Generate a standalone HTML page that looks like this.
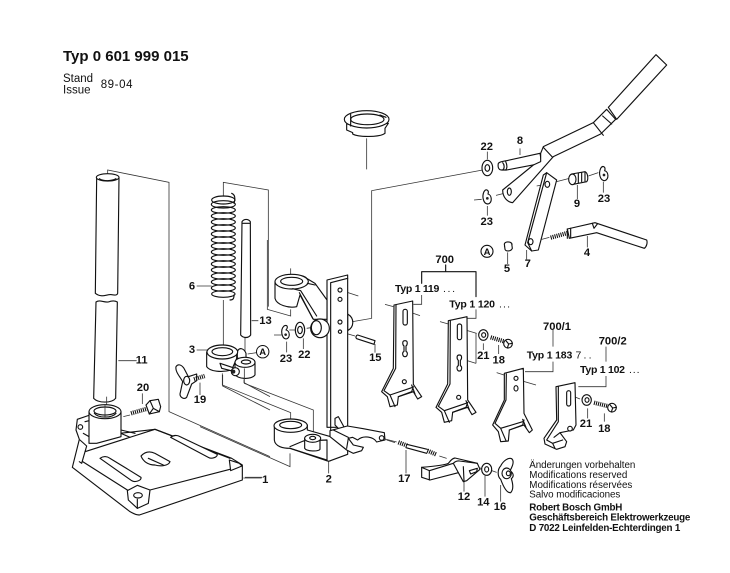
<!DOCTYPE html>
<html><head><meta charset="utf-8"><style>
html,body{margin:0;padding:0;background:#fff}
svg{display:block;filter:blur(.3px)}
.d{fill:#fff;stroke:#111;stroke-width:3.4;stroke-linejoin:round;stroke-linecap:round}
.n{fill:none;stroke:#111;stroke-width:3.4;stroke-linejoin:round;stroke-linecap:round}
.l{fill:none;stroke:#333;stroke-width:2.4}
.th{fill:none;stroke:#111;stroke-width:13;stroke-dasharray:3.2 3}
text{font-family:"Liberation Sans",sans-serif;fill:#111}
.b{font-weight:bold;font-size:11.2px;text-anchor:middle}
.ty{font-weight:bold;font-size:10.5px}
.dt{font-size:10.5px}
.s{font-size:9.8px}
.sb{font-size:9.8px;font-weight:bold}
</style></head><body>
<svg width="730" height="573" viewBox="0 0 730 573" xmlns="http://www.w3.org/2000/svg">
<rect width="730" height="573" fill="#fff"/>

<!-- Zoom group 1 -->
<g transform="translate(40,150) scale(.33333)">
<path class="l" d="M203,80V60L387,97V785L690,920"/>
<path class="l" d="M550,140V97L685,120V470"/>
<path class="l" d="M550,450V590M615,562V625M470,600H502M470,408H515M235,632H290M480,698V735M307,730V762M270,795L250,800M610,984H665M635,512H655M623,612L650,608"/>
<!-- tube -->
<path class="d" d="M170,82L166,430C185,445 200,432 215,434C225,436 232,436 233,430L237,82Z"/>
<ellipse class="d" cx="203" cy="82" rx="34" ry="11"/>
<path class="n" d="M178,86C190,94 215,94 228,86"/>
<path class="d" d="M168,456C180,448 190,458 205,456C215,452 225,452 232,456L227,745C215,760 175,760 161,745Z"/>
<path class="l" d="M200,740V790"/>
<!-- base plate -->
<path class="d" d="M97,952L118,868L108,840L112,808L150,795L240,850L345,838L575,925L607,945L607,990L298,1095C285,1095 280,1090 270,1085Z"/>
<path class="n" d="M128,935L265,1022M135,905L345,838M345,838L570,925M330,1020L570,958L605,945M120,870L140,888L125,940L118,935"/>
<path class="d" d="M262,1022L292,1006L330,1020L325,1060L292,1075L265,1050Z"/>
<ellipse class="d" cx="294" cy="1036" rx="13" ry="8"/>
<path class="n" d="M292,1048V1075"/>
<path class="d" d="M180,925C190,918 200,918 210,925L303,982C305,992 285,998 275,992Z"/>
<path class="d" d="M392,862C400,855 412,855 420,860L532,913C532,922 515,928 505,922Z"/>
<path class="d" d="M303,918C315,905 330,903 345,910L390,935C385,948 360,950 345,945C325,945 310,935 303,918Z"/>
<path class="n" d="M325,925L370,945"/>
<path class="d" d="M568,930L598,940L606,948L572,962Z"/>
<!-- socket -->
<path class="n" d="M243,840L285,850M243,850L270,862"/>
<path class="d" d="M147,785V880L170,880L243,860V785Z"/>
<ellipse class="d" cx="195" cy="785" rx="48" ry="21"/>
<ellipse class="d" cx="195" cy="783" rx="33" ry="12"/>
<path class="n" d="M163,790C175,805 215,805 228,790"/>
<path class="l" d="M195,765V800"/>
<circle class="d" cx="121" cy="831" r="7"/>
<path class="n" d="M135,815L147,812M130,850L147,860"/>
<!-- bolt 20 -->
<path class="th" d="M273,790L322,776"/>
<path class="d" d="M318,765L330,752L355,748L362,770L358,785L328,792Z"/>
<path class="n" d="M330,752L340,775L358,785M340,775L328,792"/>
<!-- wing nut 19 -->
<path class="d" d="M408,650C415,640 425,645 432,655L445,680L470,672L470,692L455,702L440,742C432,750 420,742 420,732L428,695C420,680 405,665 408,650Z"/>
<path class="th" d="M462,688L494,678"/>
<ellipse class="d" cx="440" cy="692" rx="9" ry="13"/>
<!-- spring -->
<g>
<ellipse class="n" cx="550" cy="432" rx="35" ry="10"/>
<ellipse class="n" cx="550" cy="414" rx="36" ry="10"/>
<ellipse class="n" cx="550" cy="396" rx="36" ry="10"/>
<ellipse class="n" cx="550" cy="378" rx="36" ry="10"/>
<ellipse class="n" cx="550" cy="360" rx="36" ry="10"/>
<ellipse class="n" cx="550" cy="342" rx="36" ry="10"/>
<ellipse class="n" cx="550" cy="324" rx="36" ry="10"/>
<ellipse class="n" cx="550" cy="306" rx="36" ry="10"/>
<ellipse class="n" cx="550" cy="288" rx="36" ry="10"/>
<ellipse class="n" cx="550" cy="270" rx="36" ry="10"/>
<ellipse class="n" cx="550" cy="252" rx="36" ry="10"/>
<ellipse class="n" cx="550" cy="234" rx="36" ry="10"/>
<ellipse class="n" cx="550" cy="216" rx="36" ry="10"/>
<ellipse class="n" cx="550" cy="198" rx="36" ry="10"/>
<ellipse class="n" cx="550" cy="180" rx="36" ry="10"/>
<ellipse class="n" cx="550" cy="163" rx="36" ry="11"/>
<ellipse class="n" cx="550" cy="150" rx="35" ry="12"/>
</g>
<path class="n" d="M575,130C588,135 585,150 582,160M570,450C580,450 582,445 582,435"/>
<!-- rod 13 -->
<path class="d" d="M606,215C612,206 625,206 631,215L632,555C625,565 610,565 602,555Z"/>
<path class="n" d="M608,220H630"/>
<!-- clamp 3 -->
<path class="d" d="M592,605C598,590 612,595 618,610V625H592Z"/>
<path class="d" d="M500,606V650C510,665 545,668 575,660L590,625V606Z"/>
<ellipse class="d" cx="547" cy="606" rx="46" ry="21"/>
<ellipse class="d" cx="547" cy="605" rx="31" ry="12"/>
<path class="d" d="M585,640V672C590,688 635,690 645,675V636Z"/>
<ellipse class="d" cx="615" cy="637" rx="30" ry="15"/>
<ellipse class="d" cx="618" cy="636" rx="14" ry="6"/>
<path class="d" d="M540,640L585,655V665L545,655Z"/>
<circle class="d" cx="586" cy="665" r="12"/>
<circle cx="580" cy="665" r="6" fill="#222"/>
<path class="l" d="M548,675V708L690,780M612,688V698L690,740"/>
</g>

<!-- Zoom group 2 -->
<g transform="translate(200,240) scale(.33333)">
<path class="l" d="M202,0V208L272,228V208M272,85V125"/>
<path class="l" d="M515,0V235L458,245M475,168L420,150M420,275L465,288M525,312V338M222,285H245M260,305V337M310,295V327M268,270L288,270M320,265L340,262M386,665V700M135,712H187M0,560L270,680V640"/>
<path class="l" d="M67,400V435L272,518V550M133,385V430L340,510V590M555,597L590,606"/>
<!-- column rear bush -->
<path class="d" d="M443,222C465,235 462,262 443,272Z"/>
<!-- column -->
<path class="d" d="M381,120L443,105L443,562H381Z"/>
<path class="n" d="M392,128V662M392,128L443,115"/>
<circle class="d" cx="420" cy="150" r="6"/>
<circle class="d" cx="420" cy="178" r="6"/>
<circle class="d" cx="420" cy="246" r="6"/>
<circle class="d" cx="420" cy="275" r="5"/>
<!-- arm -->
<path class="d" d="M225,125V175C230,195 265,205 290,200L300,165L340,238H381V180L345,130L320,115C310,100 235,100 225,125Z"/>
<ellipse class="d" cx="275" cy="125" rx="50" ry="22"/>
<ellipse class="d" cx="275" cy="124" rx="33" ry="12"/>
<path class="n" d="M278,146L302,152L350,228M322,130L345,135M298,158L338,235"/>
<ellipse class="d" cx="360" cy="265" rx="28" ry="28"/>
<ellipse class="d" cx="349" cy="263" rx="15" ry="21"/>
<!-- washers -->
<ellipse class="d" cx="300" cy="270" rx="14" ry="23"/>
<ellipse class="d" cx="300" cy="270" rx="7" ry="11"/>
<path class="d" d="M252,258C262,252 265,262 258,270C270,272 272,295 258,297C245,295 240,270 252,258Z"/>
<circle cx="257" cy="284" r="4" fill="#222"/>
<!-- pin 15 -->
<path class="d" d="M473,285L525,302L522,313L470,296C466,293 468,286 473,285Z"/>
<!-- lower part -->
<path class="d" d="M223,557V600C225,620 250,625 270,625L380,662L386,664L443,643L443,600L392,590L322,570V555Z"/>
<ellipse class="d" cx="272" cy="557" rx="50" ry="20"/>
<ellipse class="d" cx="272" cy="555" rx="33" ry="11"/>
<path class="n" d="M270,620L310,603L381,600M270,625L381,660M381,600V662"/>
<path class="d" d="M314,595V625C320,635 355,635 360,628V595Z"/>
<ellipse class="d" cx="338" cy="595" rx="24" ry="12"/>
<ellipse class="d" cx="338" cy="594" rx="9" ry="5"/>
<path class="d" d="M405,535L415,530L438,572L420,570L405,555Z"/>
<path class="d" d="M390,572L442,558L490,566L553,578L555,600L530,606C520,590 490,585 473,600L458,592L445,595L460,615L490,622L485,632L460,640L440,630L390,590Z"/>
<path class="n" d="M445,595L440,625M400,570L445,592"/>
<circle class="d" cx="545" cy="594" r="7"/>
</g>

<!-- Zoom group 3 -->
<g transform="translate(330,50) scale(.33333)">
<path class="l" d="M110,265V358M125,720V422L458,360"/>
<!-- ring -->
<path class="d" d="M50,222V240L68,248V252C85,262 150,262 165,250V235L175,220Z"/>
<ellipse class="d" cx="110" cy="208" rx="67" ry="26"/>
<ellipse class="d" cx="112" cy="208" rx="50" ry="16"/>
<path class="n" d="M62,193V228M150,195L168,202"/>
<!-- washer 22 -->
<ellipse class="d" cx="472" cy="354" rx="16" ry="23"/>
<ellipse class="d" cx="472" cy="354" rx="7" ry="10"/>
<path class="l" d="M472,305V328M570,295V315M620,408L650,402M680,395L718,385M775,378L805,368M742,405V447M820,395V428M472,468V497M522,430L498,436M455,448L432,450M533,607V642M522,590L548,582M590,600V628M635,568L658,562M772,558V592"/>
<!-- pin 8 -->
<path class="d" d="M505,340C510,334 520,334 530,332L630,310L635,340L530,360L515,360C505,360 503,350 505,340Z"/>
<path class="n" d="M518,338C524,345 524,355 518,360M527,335C532,345 532,355 527,360"/>
<!-- handle -->
<path class="d" d="M518,420L610,345L632,335L632,310L640,290L790,218L830,178L857,208L812,252L670,320L548,458C530,456 518,440 518,420Z"/>
<path class="n" d="M640,292L668,322M790,218L820,256M818,198L845,222"/>
<ellipse class="d" cx="538" cy="425" rx="6" ry="11"/>
<path class="d" d="M835,172L978,14L1010,45L860,208Z"/>
<!-- clips -->
<g id="clip"><path class="d" d="M462,425C468,415 478,420 474,432C486,435 488,458 474,462C460,462 455,440 462,425Z"/><circle cx="472" cy="445" r="4" fill="#222"/></g>
<use href="#clip" transform="translate(350,-70)"/>
<!-- link 7 -->
<path class="d" d="M640,375L650,368L680,390L625,600L605,603L585,585Z"/>
<path class="n" d="M650,368L593,578L605,603"/>
<ellipse class="d" cx="652" cy="403" rx="7" ry="9"/>
<ellipse class="d" cx="602" cy="575" rx="7" ry="9"/>
<!-- roller 9 -->
<path class="d" d="M725,372L765,365C775,370 775,390 770,395L730,403Z"/>
<ellipse class="d" cx="727" cy="388" rx="11" ry="16"/>
<path class="n" d="M745,370V398M755,368V395M765,366V393"/>
<!-- pin 5 -->
<path class="d" d="M523,582C525,574 540,574 545,580L547,595C542,605 528,605 525,598Z"/>
<!-- rod 4 -->
<path class="d" d="M712,537L795,518L950,570C953,578 950,590 943,595L800,548L718,565Z"/>
<path class="th" d="M662,563L712,549"/>
<path class="n" d="M712,537V565M722,535V562M787,520L792,535L802,522"/>
<circle class="n" cx="471" cy="604" r="18"/>
</g>

<!-- Zoom group 4 -->
<g transform="translate(370,250) scale(.33333)">
<defs>
<g id="brk">
<path class="d" d="M72,165L128,153L130,403L155,440L143,447L130,425L85,440L82,465L60,470L52,440L35,425L70,355Z"/>
<path class="n" d="M78,165L77,355L42,422L60,435L125,413M60,435L75,470M85,440L125,425L130,410M125,405L135,432"/>
<circle class="d" cx="103" cy="395" r="6"/>
</g>
</defs>
<path class="l" d="M155,135V163H130M318,178V205H292M549,240V290M549,335V365H465M708,290V335M708,378V410H625"/>
<path class="n" d="M155,100V65H318V140M227,45V65"/>
<path class="l" d="M45,163L70,170M115,185L150,197M210,215L235,222M270,235L320,250M270,325L318,340M318,250V340M340,280V300M386,285V312M380,368L402,375M440,388L498,405M600,435L630,447M653,475V505M703,490V515"/>
<!-- A -->
<use href="#brk"/>
<rect class="d" x="99" y="178" width="13" height="47" rx="6"/>
<path class="d" d="M105,272C115,272 112,285 108,288V304C115,308 112,320 105,320C98,320 95,308 102,304V288C98,285 95,272 105,272Z"/>
<!-- B -->
<use href="#brk" transform="translate(163,47)"/>
<rect class="d" x="262" y="222" width="13" height="47" rx="6"/>
<path class="d" d="M268,315C278,315 275,328 271,331V347C278,351 275,363 268,363C261,363 258,351 265,347V331C261,328 258,315 268,315Z"/>
<!-- C -->
<path class="d" d="M403,370L460,355L462,490L487,540L478,548L462,525L418,540L415,573L392,575L385,545L368,525L403,450Z"/>
<path class="n" d="M409,372L408,450L375,520L392,535L458,515M392,535L408,572M418,540L458,525L462,510M458,508L468,532"/>
<circle class="d" cx="438" cy="385" r="6"/>
<ellipse class="d" cx="438" cy="415" rx="6" ry="8"/>
<!-- D -->
<path class="d" d="M558,410L615,398L618,525L610,540L570,548L590,575L585,590L560,598L525,582L522,565L560,510Z"/>
<path class="n" d="M565,410L565,515L530,570L548,580L578,570M548,580L555,595M570,548L552,562"/>
<rect class="d" x="590" y="422" width="12" height="46" rx="6"/>
<circle class="d" cx="600" cy="536" r="7"/>
<!-- washers and bolts -->
<ellipse class="d" cx="340" cy="255" rx="14" ry="16"/>
<ellipse class="d" cx="341" cy="255" rx="6" ry="7"/>
<path class="th" d="M362,262L402,274"/>
<circle class="d" cx="414" cy="281" r="13"/>
<path class="n" d="M407,271L416,282L412,294M416,282L427,280"/>
<ellipse class="d" cx="650" cy="450" rx="14" ry="16"/>
<ellipse class="d" cx="651" cy="450" rx="6" ry="7"/>
<path class="th" d="M672,458L712,468"/>
<circle class="d" cx="726" cy="473" r="13"/>
<path class="n" d="M719,463L728,474L724,486M728,474L739,472"/>
</g>

<!-- Zoom group 5 -->
<g transform="translate(370,430) scale(.33333)">
<path class="l" d="M50,30L75,38M108,60V130M208,78L230,85M282,150V185M345,138V200M392,165V215M322,112L335,115M365,122L380,127"/>
<path class="th" d="M85,37L112,47"/>
<path class="th" d="M172,62L200,74"/>
<path class="n" d="M110,43L172,58M108,53L170,70"/>
<!-- part 12 -->
<path class="d" d="M155,112C200,108 225,105 235,100C240,95 245,85 255,84L322,100L330,118L290,152L280,155L265,128L180,150L155,142Z"/>
<path class="n" d="M155,112L178,122V150M178,122L250,100C255,95 260,92 268,93M250,100L265,128M268,93L322,100M280,110L282,152"/>
<path class="d" d="M298,122L322,115L320,125L302,132Z"/>
<!-- washer -->
<ellipse class="d" cx="350" cy="118" rx="15" ry="18"/>
<ellipse class="d" cx="350" cy="118" rx="6" ry="8"/>
<!-- wing -->
<path class="d" d="M392,108C400,92 415,82 425,86C432,92 430,105 420,122C432,130 432,140 424,146C430,165 430,180 422,188C412,190 402,175 392,148C382,140 382,118 392,108Z"/>
<ellipse class="d" cx="410" cy="130" rx="14" ry="16"/>
<ellipse class="n" cx="415" cy="130" rx="6" ry="7"/>
</g>

<!-- Circles A -->
<circle cx="262.7" cy="351.7" r="6.2" fill="#fff" stroke="#111" stroke-width="1"/>
<text x="262.7" y="355.2" text-anchor="middle" font-size="9.5" font-weight="bold">A</text>
<text x="487" y="254.8" text-anchor="middle" font-size="9.5" font-weight="bold">A</text>

<!-- Header -->
<text x="63" y="61" font-size="15" font-weight="bold">Typ 0 601 999 015</text>
<text x="63" y="82" font-size="11.5">Stand</text>
<text x="63" y="93.5" font-size="11.5">Issue</text>
<text x="100.7" y="88" font-size="11.5" letter-spacing=".6">89-04</text>

<!-- Numbers -->
<text class="b" x="192" y="289.5">6</text>
<text class="b" x="265.5" y="324">13</text>
<text class="b" x="192" y="353">3</text>
<text class="b" x="141.7" y="363.5">11</text>
<text class="b" x="143" y="391">20</text>
<text class="b" x="200" y="403">19</text>
<text class="b" x="265.3" y="483">1</text>
<text class="b" x="328.7" y="482.5">2</text>
<text class="b" x="286" y="362">23</text>
<text class="b" x="304.3" y="358">22</text>
<text class="b" x="375.3" y="361">15</text>
<text class="b" x="486.7" y="150">22</text>
<text class="b" x="520" y="144">8</text>
<text class="b" x="486.7" y="225">23</text>
<text class="b" x="577" y="207">9</text>
<text class="b" x="604" y="202">23</text>
<text class="b" x="507" y="272">5</text>
<text class="b" x="527.7" y="267">7</text>
<text class="b" x="587" y="256">4</text>
<text class="b" x="444.7" y="263">700</text>
<text class="b" x="557" y="330">700/1</text>
<text class="b" x="612.7" y="344.5">700/2</text>
<text class="b" x="483.3" y="359">21</text>
<text class="b" x="498.7" y="363.5">18</text>
<text class="b" x="586" y="427">21</text>
<text class="b" x="604.3" y="432">18</text>
<text class="b" x="404.3" y="482">17</text>
<text class="b" x="464" y="500">12</text>
<text class="b" x="483.3" y="505.5">14</text>
<text class="b" x="500" y="510">16</text>

<text class="ty" x="395" y="292" textLength="44.3">Typ 1 119</text><text class="dt" x="443" y="292" textLength="12">. . .</text>
<text class="ty" x="449.3" y="307.5" textLength="45.7">Typ 1 120</text><text class="dt" x="499" y="307.5" textLength="11">. . .</text>
<text class="ty" x="526.7" y="358.5" textLength="45.6">Typ 1 183</text><text class="dt" x="575.5" y="358.5" textLength="16">7 . .</text>
<text class="ty" x="580" y="373" textLength="45">Typ 1 102</text><text class="dt" x="629" y="373" textLength="10.5">. . .</text>

<!-- Notes -->
<text class="s" x="529.3" y="468" textLength="106" lengthAdjust="spacing">Änderungen vorbehalten</text>
<text class="s" x="529.3" y="478" textLength="98">Modifications reserved</text>
<text class="s" x="529.3" y="488" textLength="103">Modifications réservées</text>
<text class="s" x="529.3" y="497.5" textLength="91">Salvo modificaciones</text>
<text class="sb" x="529.3" y="510.5" textLength="93">Robert Bosch GmbH</text>
<text class="sb" x="529.3" y="520.5" textLength="161">Geschäftsbereich Elektrowerkzeuge</text>
<text class="sb" x="529.3" y="531" textLength="151">D 7022 Leinfelden-Echterdingen 1</text>
</svg>
</body></html>
